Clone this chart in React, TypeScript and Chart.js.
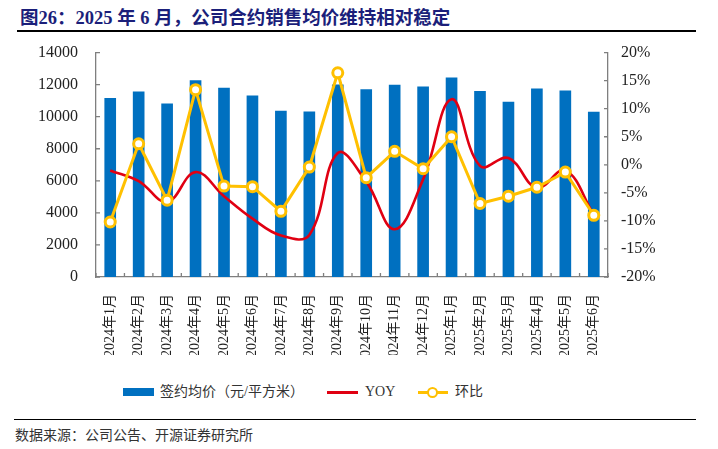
import { useEffect, useRef } from 'react'
import { Chart, registerables } from 'chart.js'

Chart.register(...registerables)

const months = [
  '2024年1月', '2024年2月', '2024年3月', '2024年4月', '2024年5月', '2024年6月',
  '2024年7月', '2024年8月', '2024年9月', '2024年10月', '2024年11月', '2024年12月',
  '2025年1月', '2025年2月', '2025年3月', '2025年4月', '2025年5月', '2025年6月',
]
const avgPrice = [
  11160, 11580, 10830, 12280, 11800, 11330, 10370, 10330, 12010,
  11720, 12000, 11890, 12450, 11600, 10930, 11760, 11640, 10310,
]
const yoy = [
  -1.0, -2.9, -6.6, -1.3, -5.6, -9.6, -12.6, -12.5, 2.1,
  -3.0, -11.5, -2.6, 11.7, -0.2, 1.2, -4.1, -1.0, -8.9,
]
const mom = [
  -10.2, 3.75, -6.3, 13.4, -3.8, -3.9, -8.3, -0.4, 16.4,
  -2.3, 2.4, -0.7, 5.0, -6.9, -5.6, -4.0, -1.3, -9.0,
]

const BLUE = '#0070C0'
const RED = '#E00012'
const GOLD = '#FFC000'
const AXIS = '#7f7f7f'
const SERIF = "'Liberation Serif', 'Noto Sans CJK SC', serif"

// short tick marks pointing into the plot, like the original
const innerTicks = {
  id: 'innerTicks',
  afterDraw(chart: Chart) {
    const ctx = chart.ctx
    const { x, y, y1 } = chart.scales as any
    ctx.save()
    ctx.strokeStyle = AXIS
    ctx.lineWidth = 1.3
    ctx.beginPath()
    y.ticks.forEach((t: any) => {
      const py = y.getPixelForValue(t.value)
      ctx.moveTo(y.right, py)
      ctx.lineTo(y.right + 4, py)
    })
    y1.ticks.forEach((t: any) => {
      const py = y1.getPixelForValue(t.value)
      ctx.moveTo(y1.left - 4, py)
      ctx.lineTo(y1.left, py)
    })
    for (let i = 0; i <= months.length; i++) {
      let px
      if (i === 0) px = x.left
      else if (i === months.length) px = x.right
      else px = (x.getPixelForValue(i - 1) + x.getPixelForValue(i)) / 2
      ctx.moveTo(px, x.top)
      ctx.lineTo(px, x.top - 4)
    }
    ctx.stroke()
    ctx.restore()
  },
}

export default function App() {
  const canvasRef = useRef<HTMLCanvasElement>(null)
  const chartRef = useRef<Chart | null>(null)

  useEffect(() => {
    if (!canvasRef.current) return
    if (chartRef.current) chartRef.current.destroy()
    const ctx = canvasRef.current.getContext('2d')
    if (!ctx) return

    chartRef.current = new Chart(ctx, {
      type: 'bar',
      data: {
        labels: months,
        datasets: [
          {
            type: 'line',
            label: '环比',
            data: mom,
            yAxisID: 'y1',
            borderColor: GOLD,
            borderWidth: 3,
            pointRadius: 5,
            pointBorderWidth: 3,
            pointBackgroundColor: '#fff',
            pointBorderColor: GOLD,
            tension: 0,
            order: 1,
          },
          {
            type: 'line',
            label: 'YOY',
            data: yoy,
            yAxisID: 'y1',
            borderColor: RED,
            borderWidth: 2.6,
            pointRadius: 0,
            tension: 0.4,
            order: 2,
          },
          {
            type: 'bar',
            label: '签约均价（元/平方米）',
            data: avgPrice,
            yAxisID: 'y',
            backgroundColor: BLUE,
            categoryPercentage: 1,
            barPercentage: 0.41,
            order: 3,
          },
        ],
      },
      options: {
        responsive: false,
        animation: false,
        layout: { padding: { top: 0, left: 0, right: 0, bottom: 0 } },
        plugins: {
          legend: { display: false },
          tooltip: { enabled: false },
        },
        scales: {
          x: {
            grid: { display: false, drawTicks: false },
            border: { display: true, color: AXIS, width: 1.3 },
            ticks: {
              autoSkip: false,
              maxRotation: 90,
              minRotation: 90,
              padding: 17,
              color: '#222',
              font: { family: SERIF, size: 14 },
            },
            afterFit: (s: any) => { s.height = 78 },
          },
          y: {
            position: 'left',
            min: 0,
            max: 14000,
            grid: { display: false, drawTicks: false },
            border: { display: true, color: AXIS, width: 1.3 },
            ticks: {
              stepSize: 2000,
              padding: 18,
              color: '#222',
              font: { family: SERIF, size: 16 },
              callback: (v: any) => String(v),
            },
            afterFit: (s: any) => { s.width = 96 },
          },
          y1: {
            position: 'right',
            min: -20,
            max: 20,
            grid: { display: false, drawTicks: false },
            border: { display: true, color: AXIS, width: 1.3 },
            ticks: {
              stepSize: 5,
              padding: 13,
              color: '#222',
              font: { family: SERIF, size: 16 },
              callback: (v: any) => v + '%',
            },
            afterFit: (s: any) => { s.width = 110 },
          },
        },
      },
      plugins: [innerTicks],
    })

    return () => {
      if (chartRef.current) {
        chartRef.current.destroy()
        chartRef.current = null
      }
    }
  }, [])

  const legendText = { position: 'absolute' as const, top: 383, fontSize: 14, lineHeight: '18px', color: '#333', fontFamily: SERIF }

  return (
    <div style={{ position: 'absolute', left: 0, top: 0, width: 718, height: 449, background: '#fff', fontFamily: SERIF }}>
      <canvas ref={canvasRef} width={718} height={330} style={{ position: 'absolute', left: 0, top: 25, width: 718, height: 330 }} />

      <div style={{ position: 'absolute', left: 0, top: 0, width: 718, height: 34, background: '#fff' }} />
      <div style={{ position: 'absolute', left: 20, top: 6, fontSize: 18.5, lineHeight: '24px', fontWeight: 'bold', color: '#1B1F7A', whiteSpace: 'nowrap' }}>
        图26：2025 年 6 月，公司合约销售均价维持相对稳定
      </div>
      <div style={{ position: 'absolute', left: 17, top: 30, width: 679, height: 2, background: '#000' }} />

      <div style={{ position: 'absolute', left: 123, top: 388, width: 31, height: 8, background: BLUE }} />
      <div style={{ ...legendText, left: 160 }}>签约均价（元/平方米）</div>
      <div style={{ position: 'absolute', left: 327, top: 390.5, width: 31, height: 3, background: RED }} />
      <div style={{ ...legendText, left: 365 }}>YOY</div>
      <div style={{ position: 'absolute', left: 418, top: 391, width: 30, height: 3, background: GOLD }} />
      <div style={{ position: 'absolute', left: 427, top: 387, width: 7, height: 7, borderRadius: '50%', border: `2.5px solid ${GOLD}`, background: '#fff' }} />
      <div style={{ ...legendText, left: 455 }}>环比</div>

      <div style={{ position: 'absolute', left: 14, top: 418.5, width: 682, height: 1.5, background: '#000' }} />
      <div style={{ position: 'absolute', left: 15, top: 427, fontSize: 14, lineHeight: '18px', color: '#333' }}>
        数据来源：公司公告、开源证券研究所
      </div>
    </div>
  )
}
